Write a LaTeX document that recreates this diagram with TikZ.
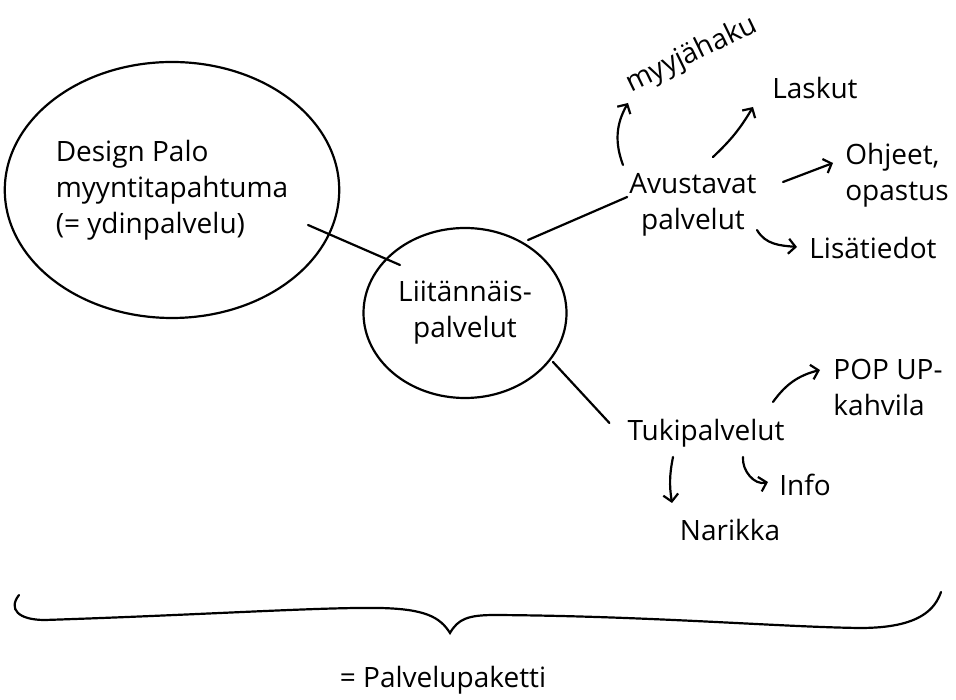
\documentclass[tikz,border=0pt]{standalone}
\usepackage{fontspec}
\setmainfont{Open Sans}
\usetikzlibrary{arrows.meta,calc,positioning,shapes.geometric}

\tikzset{
  pen/.style={line width=2.2pt, line cap=round},
  penarrow/.style={pen, -{Straight Barb[length=7pt,width=15pt]}},
  hand/.style={font=\fontsize{28}{36}\selectfont, inner sep=2pt},
}

\begin{document}
\begin{tikzpicture}[x=1pt,y=1pt]
\useasboundingbox (0,0) rectangle (956,699);

\node[pen, draw, ellipse, minimum width=316pt, minimum height=256pt, hand, align=left] (core) at (172,509) {Design Palo\\myyntitapahtuma\\(= ydinpalvelu)};
\node[pen, draw, ellipse, minimum width=203pt, minimum height=170pt, hand, align=center] (anc) at (465,386) {Liitännäis-\\palvelut};

\node[hand, align=center] (avu) at (693,494) {Avustavat\\palvelut};
\node[hand, rotate=26] (myy) at (692,644) {myyjähaku};
\node[hand] (las) at (815,611) {Laskut};
\node[hand, align=left] (ohj) at (897,524) {Ohjeet,\\opastus};
\node[hand] (lis) at (873,451) {Lisätiedot};

\node[hand] (tuki) at (706,266) {Tukipalvelut};
\node[hand, align=left] (pop) at (888,312) {POP UP-\\kahvila};
\node[hand] (info) at (805,214) {Info};
\node[hand] (nar) at (730,169) {Narikka};

\node[hand] (pak) at (443,19) {= Palvelupaketti};

\draw[pen] ($(core)+(136,-35)$) -- ($(anc)+(-65,48)$);
\draw[pen] ($(anc)+(63,73)$) -- ($(avu.west)+(0,8)$);
\draw[pen] ($(anc)+(88,-49)$) -- ($(tuki.west)+(-16,10)$);

\draw[penarrow] ($(avu)+(-70,40)$) to[bend left=25] ($(myy)+(-64,-48)$);
\draw[penarrow] ($(avu)+(20,48)$) to[bend right=8] ($(las)+(-62,-19)$);
\draw[penarrow] ($(avu)+(90,23)$) -- ($(ohj)+(-64,12)$);
\draw[penarrow] ($(avu)+(64,-25)$) to[out=-60,in=175] ($(lis)+(-76,1)$);

\draw[penarrow] ($(tuki)+(67,31)$) to[bend left=20] ($(pop)+(-68,17)$);
\draw[penarrow] ($(tuki)+(-33,-24)$) to[bend right=10] ($(nar)+(-58,27)$);
\draw[penarrow] ($(tuki)+(37,-24)$) to[out=-95,in=195] ($(info)+(-37,3)$);

\draw[pen] (19,104) .. controls (8,90) and (18,79) .. (45,79)
  .. controls (200,84) and (320,92) .. (380,91)
  .. controls (425,90) and (440,82) .. (450,66)
  .. controls (458,80) and (468,84) .. (495,84)
  .. controls (650,83) and (780,72) .. (860,71)
  .. controls (920,71) and (935,90) .. (941,107);
\end{tikzpicture}
\end{document}
